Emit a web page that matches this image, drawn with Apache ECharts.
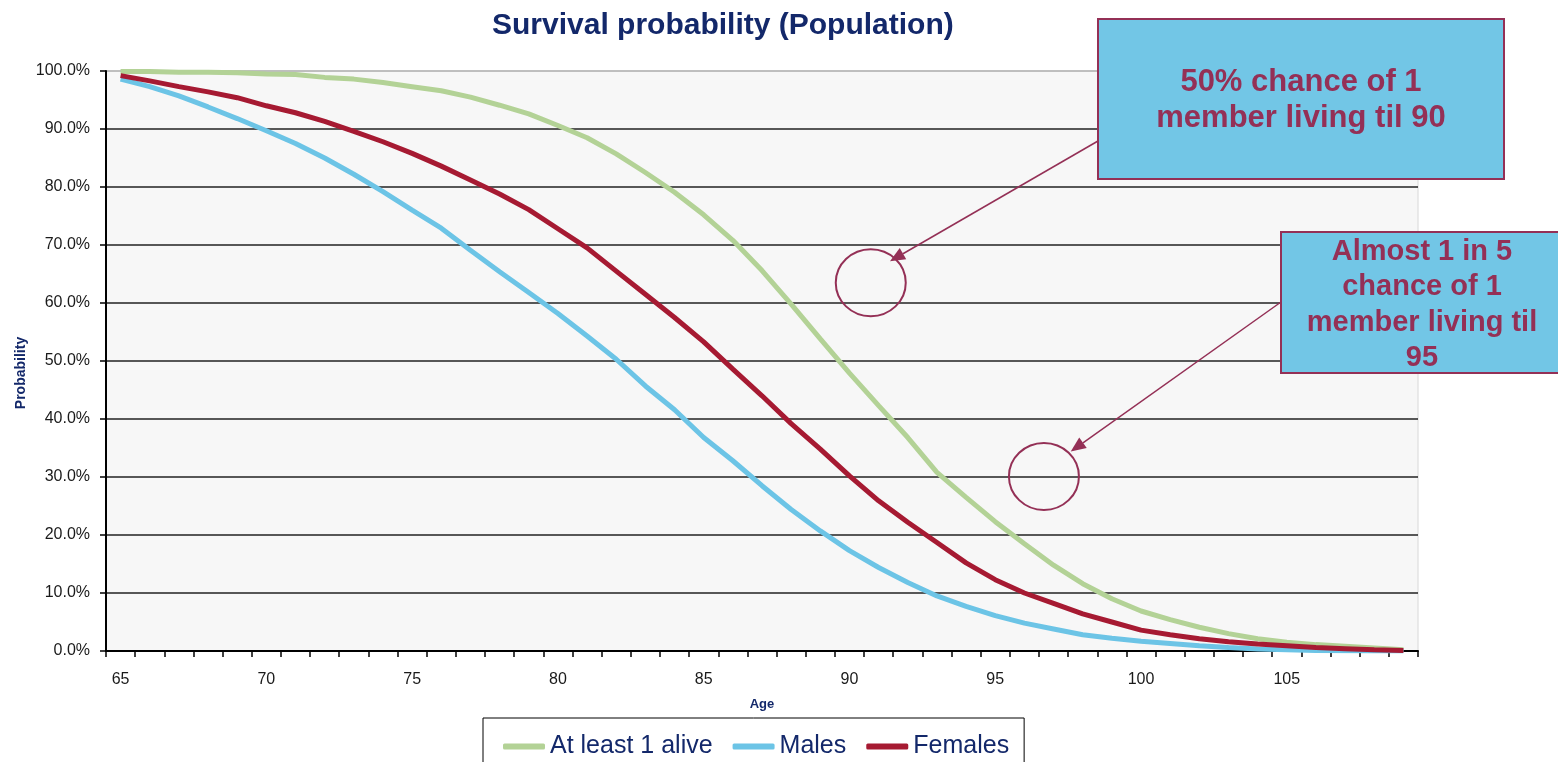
<!DOCTYPE html>
<html>
<head>
<meta charset="utf-8">
<script src="https://cdn.jsdelivr.net/npm/echarts@6/dist/echarts.min.js"></script>
<style>
html,body{margin:0;padding:0;background:#fff;}
#chart{width:1558px;height:762px;}
</style>
</head>
<body>
<div id="chart"></div>
<script>
const ages = ['65','66','67','68','69','70','71','72','73','74','75','76','77','78','79','80','81','82','83','84','85','86','87','88','89','90','91','92','93','94','95','96','97','98','99','100','101','102','103','104','105','106','107','108','109'];
const atLeastOneAlive = [99.9,99.9,99.8,99.8,99.7,99.5,99.4,98.9,98.6,98.0,
  97.3,96.6,95.5,94.1,92.6,90.6,88.5,85.7,82.5,79.1,
  75.2,70.8,65.6,59.8,53.8,47.9,42.3,36.8,30.8,26.5,
  22.3,18.5,14.8,11.6,9.0,6.9,5.4,4.1,3.0,2.1,
  1.5,1.1,0.8,0.5,0.2];
const males = [98.6,97.3,95.7,93.8,91.8,89.7,87.5,85.0,82.2,79.2,
  76.0,72.9,69.1,65.4,61.8,58.2,54.3,50.3,45.7,41.6,
  36.8,32.8,28.5,24.4,20.7,17.3,14.4,11.8,9.5,7.7,
  6.1,4.8,3.8,2.8,2.2,1.7,1.3,0.9,0.6,0.35,
  0.2,0.1,0.05,0.02,0.0];
const females = [99.2,98.3,97.3,96.4,95.4,94.0,92.8,91.3,89.6,87.8,
  85.8,83.6,81.2,78.8,76.1,72.8,69.5,65.5,61.5,57.5,
  53.3,48.6,44.0,39.2,34.8,30.2,25.9,22.2,18.7,15.2,
  12.3,10.0,8.2,6.4,5.0,3.6,2.8,2.1,1.6,1.2,
  0.9,0.6,0.4,0.2,0.1];
const seriesNames = ['At least 1 alive','Males','Females'];

// annotations
const calloutTexts = ['50% chance of 1\nmember living til 90', 'Almost 1 in 5\nchance of 1\nmember living til\n95'];
const circleAges = [90.73, 96.67];
const circleValues = [63.5, 30.1];
const arrowTipAges = [91.39, 97.59];
const arrowTipValues = [67.2, 34.4];

const FONT = '"Liberation Sans", Arial, Helvetica, sans-serif';
const NAVY = '#13286a';
const MAROON = '#943056';
const colors = ['#b3d296', '#6cc4e6', '#a61a32'];

const chart = echarts.init(document.getElementById('chart'), null, {renderer: 'canvas'});

const gridLineColors = ['#222','#222','#222','#222','#222','#222','#222','#222','#222','#222','#b0b0b0'];

chart.setOption({
  animation: false,
  backgroundColor: '#ffffff',
  title: {
    text: 'Survival probability (Population)',
    left: 492, top: 11, padding: 0,
    textStyle: {fontFamily: FONT, fontSize: 30, fontWeight: 'bold', color: NAVY}
  },
  legend: {
    left: 483, top: 718,
    padding: [16, 15, 40, 20],
    borderColor: '#000', borderWidth: 1,
    itemGap: 20, itemWidth: 42, itemHeight: 6,
    icon: 'roundRect',
    textStyle: {fontFamily: FONT, fontSize: 25, color: NAVY},
    data: seriesNames
  },
  grid: {
    left: 106, right: 140, top: 71, bottom: 111,
    show: true, backgroundColor: '#f7f7f7', borderColor: '#d8d8d8', borderWidth: 1
  },
  xAxis: {
    type: 'category',
    data: ages,
    boundaryGap: true,
    name: 'Age',
    nameLocation: 'middle',
    nameGap: 47,
    nameTextStyle: {fontFamily: FONT, fontSize: 13, fontWeight: 'bold', color: NAVY},
    axisLine: {show: true, lineStyle: {color: '#000', width: 2}},
    axisTick: {show: true, interval: 0, length: 6, lineStyle: {color: '#000', width: 1.5}},
    axisLabel: {interval: 4, margin: 21, fontFamily: FONT, fontSize: 16, color: '#1a1a1a'},
    splitLine: {show: false}
  },
  yAxis: {
    type: 'value',
    min: 0, max: 100, interval: 10,
    axisLine: {show: true, lineStyle: {color: '#000', width: 2}},
    axisTick: {show: true, length: 6, lineStyle: {color: '#000', width: 1.5}},
    axisLabel: {margin: 16, fontFamily: FONT, fontSize: 16, color: '#1a1a1a',
      formatter: v => v.toFixed(1) + '%'},
    splitLine: {show: true, lineStyle: {color: gridLineColors, width: 1.5}}
  },
  series: [
    {name: seriesNames[0], type: 'line', data: atLeastOneAlive, symbol: 'none', smooth: false,
      color: colors[0], lineStyle: {width: 5, color: colors[0]}},
    {name: seriesNames[1], type: 'line', data: males, symbol: 'none', smooth: false,
      color: colors[1], lineStyle: {width: 5, color: colors[1]}},
    {name: seriesNames[2], type: 'line', data: females, symbol: 'none', smooth: false,
      color: colors[2], lineStyle: {width: 5, color: colors[2]}}
  ]
});

function ageToPx(age) {
  const i0 = Math.floor(age - 65), i1 = Math.min(i0 + 1, ages.length - 1);
  const p0 = chart.convertToPixel({xAxisIndex: 0}, ages[i0]);
  const p1 = chart.convertToPixel({xAxisIndex: 0}, ages[i1]);
  const f = (age - 65) - i0;
  return p0 + (p1 - p0) * f;
}
function valToPx(v) { return chart.convertToPixel({yAxisIndex: 0}, v); }

// callout boxes (pixel layout)
const boxes = [
  {x: 1098, y: 19, w: 406, h: 160, cx: 1301, cy: 100, fs: 31, lh: 36, ax: 1098, ay: 141},
  {x: 1281, y: 232, w: 290, h: 141, cx: 1422, cy: 305, fs: 29, lh: 35.3, ax: 1281, ay: 302}
];

const graphics = [];
graphics.push({
  type: 'text', x: 21, y: 373, rotation: Math.PI / 2,
  style: {text: 'Probability', fontFamily: FONT, fontSize: 14, fontWeight: 'bold', fill: NAVY, align: 'center', verticalAlign: 'middle'}
});

boxes.forEach((b, k) => {
  const cx = ageToPx(circleAges[k]), cy = valToPx(circleValues[k]);
  const tx = ageToPx(arrowTipAges[k]), ty = valToPx(arrowTipValues[k]);
  graphics.push({type: 'ellipse', shape: {cx: cx, cy: cy, rx: 35, ry: 33.5},
    style: {fill: 'none', stroke: MAROON, lineWidth: 2}, z: 10});
  const dx = tx - b.ax, dy = ty - b.ay, len = Math.sqrt(dx*dx + dy*dy);
  const ux = dx / len, uy = dy / len;
  const hl = 15, hw = 6.5;
  const bx = tx - ux * hl, by = ty - uy * hl;
  graphics.push({type: 'line', shape: {x1: b.ax, y1: b.ay, x2: bx, y2: by},
    style: {stroke: MAROON, lineWidth: 1.5}, z: 10});
  graphics.push({type: 'polygon', shape: {points: [[tx, ty], [bx - uy * hw, by + ux * hw], [bx + uy * hw, by - ux * hw]]},
    style: {fill: MAROON}, z: 10});
  graphics.push({type: 'rect', shape: {x: b.x, y: b.y, width: b.w, height: b.h},
    style: {fill: '#72c6e6', stroke: MAROON, lineWidth: 2}, z: 11});
  graphics.push({type: 'text', x: b.cx, y: b.cy, z: 12,
    style: {text: calloutTexts[k], fontFamily: FONT, fontSize: b.fs, fontWeight: 'bold', fill: MAROON,
      align: 'center', verticalAlign: 'middle', lineHeight: b.lh}});
});

chart.setOption({graphic: graphics});
</script>
</body>
</html>
